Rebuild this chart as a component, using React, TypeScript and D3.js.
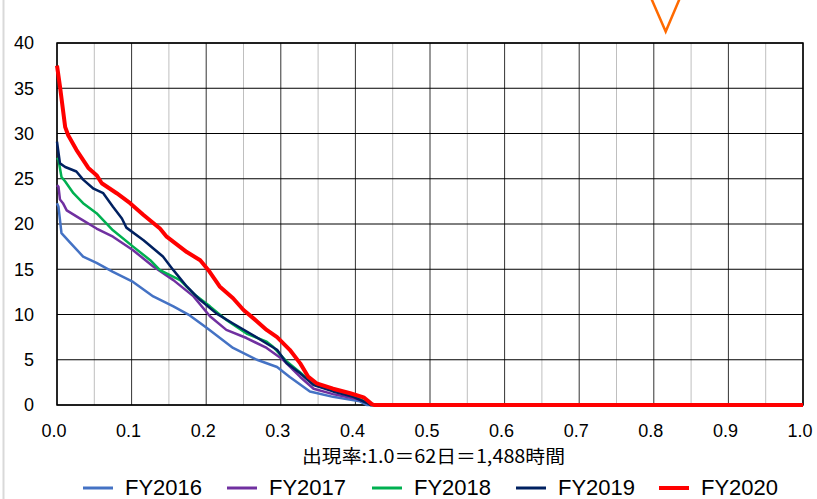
import React from "react";
import * as d3 from "d3";

type Pt = [number, number];

const seriesNames = ["FY2016", "FY2017", "FY2018", "FY2019", "FY2020"];
const seriesColors = ["#4472C4", "#7030A0", "#00B050", "#002060", "#FF0000"];

const fy2016: Pt[] = [
  [0, 22.3], [0.002, 21.9], [0.006, 19.0], [0.017, 18.0], [0.035, 16.4], [0.053, 15.7],
  [0.075, 14.7], [0.102, 13.6], [0.129, 12.0], [0.156, 10.9], [0.178, 9.9], [0.201, 8.5],
  [0.236, 6.3], [0.268, 5.0], [0.295, 4.2], [0.312, 3.1], [0.339, 1.5], [0.37, 0.9],
  [0.406, 0.4], [0.415, 0], [1.0, 0],
];
const fy2017: Pt[] = [
  [0, 24.3], [0.002, 24.1], [0.004, 22.7], [0.008, 22.3], [0.013, 21.5], [0.031, 20.6],
  [0.053, 19.5], [0.075, 18.6], [0.102, 17.1], [0.129, 15.3], [0.156, 13.8], [0.183, 12.0],
  [0.205, 9.8], [0.227, 8.3], [0.254, 7.4], [0.281, 6.3], [0.303, 5.0], [0.326, 3.1],
  [0.344, 1.8], [0.37, 1.2], [0.4, 0.7], [0.418, 0.2], [0.42, 0], [1.0, 0],
];
const fy2018: Pt[] = [
  [0, 27.3], [0.002, 27.1], [0.006, 25.2], [0.011, 24.7], [0.022, 23.4], [0.035, 22.3],
  [0.053, 21.2], [0.075, 19.3], [0.102, 17.5], [0.125, 16.0], [0.138, 14.9], [0.165, 13.8],
  [0.183, 12.3], [0.205, 10.9], [0.227, 9.4], [0.254, 7.9], [0.281, 7.0], [0.29, 6.4],
  [0.308, 4.8], [0.326, 3.6], [0.344, 2.3], [0.37, 1.6], [0.397, 1.0], [0.415, 0.3],
  [0.421, 0], [1.0, 0],
];
const fy2019: Pt[] = [
  [0, 29.1], [0.004, 26.7], [0.011, 26.3], [0.026, 25.8], [0.035, 24.9], [0.049, 23.9],
  [0.062, 23.4], [0.075, 21.9], [0.087, 20.6], [0.093, 19.6], [0.116, 18.2], [0.142, 16.4],
  [0.156, 14.9], [0.174, 13.1], [0.192, 11.6], [0.214, 10.1], [0.236, 9.0], [0.259, 7.9],
  [0.281, 6.8], [0.295, 6.1], [0.308, 4.6], [0.326, 3.5], [0.344, 2.2], [0.37, 1.5],
  [0.397, 0.9], [0.415, 0.25], [0.42, 0], [1.0, 0],
];
const fy2020: Pt[] = [
  [0, 37.5], [0.004, 35.2], [0.011, 30.7], [0.015, 29.8], [0.026, 28.2], [0.042, 26.2],
  [0.053, 25.4], [0.06, 24.5], [0.08, 23.4], [0.098, 22.3], [0.116, 21.0], [0.138, 19.5],
  [0.147, 18.6], [0.174, 16.9], [0.192, 16.0], [0.203, 14.9], [0.218, 13.1], [0.236, 11.8],
  [0.25, 10.5], [0.263, 9.6], [0.281, 8.3], [0.295, 7.5], [0.312, 6.1], [0.326, 4.6],
  [0.337, 3.1], [0.348, 2.4], [0.37, 1.8], [0.393, 1.3], [0.411, 0.85], [0.422, 0.1],
  [0.425, 0], [1.0, 0],
];
const seriesData = [fy2016, fy2017, fy2018, fy2019, fy2020];

const xTicks = [0, 0.1, 0.2, 0.3, 0.4, 0.5, 0.6, 0.7, 0.8, 0.9, 1.0];
const xMinorTicks = [0.05, 0.15, 0.25, 0.35, 0.45, 0.55, 0.65, 0.75, 0.85, 0.95];
const yTicks = [0, 5, 10, 15, 20, 25, 30, 35, 40];
const xTitle = "出現率:1.0＝62日＝1,488時間";
const legendX = [83, 227, 372, 516, 659];

const W = 817;
const H = 499;
const left = 57, right = 803, top = 43, bottom = 405;

export default function App() {
  const x = d3.scaleLinear().domain([0, 1]).range([left, right]);
  const y = d3.scaleLinear().domain([0, 40]).range([bottom, top]);
  const line = d3.line<Pt>().x((d) => x(d[0])).y((d) => y(d[1]));
  const latin = "'Liberation Sans', Arial, sans-serif";
  const cjk = "'Noto Sans CJK JP', 'Noto Sans', sans-serif";

  return (
    <svg width={W} height={H} style={{ position: "absolute", left: 0, top: 0, background: "#fff" }}>
      <rect x={0} y={0} width={W} height={H} fill="#fff" />
      <line x1={3.5} x2={3.5} y1={0} y2={H} stroke="#d9d9d9" strokeWidth={2} />
      {/* orange marker */}
      <polyline points="651.5,-1 665.7,31.5 679.5,-1" fill="none" stroke="#FF6A00" strokeWidth={2.5} />
      {/* minor vertical grid */}
      {xMinorTicks.map((t) => (
        <line key={"mv" + t} x1={x(t)} x2={x(t)} y1={top} y2={bottom} stroke="#BFBFBF" strokeWidth={1} />
      ))}
      {xTicks.map((t) => (
        <line key={"v" + t} x1={x(t)} x2={x(t)} y1={top} y2={bottom} stroke="#333" strokeWidth={1} />
      ))}
      {yTicks.map((t) => (
        <line key={"h" + t} x1={left} x2={right} y1={y(t)} y2={y(t)} stroke="#000" strokeWidth={1} />
      ))}
      <rect x={left} y={top} width={right - left} height={bottom - top} fill="none" stroke="#000" strokeWidth={1.5} />
      {seriesData.map((s, i) => (
        <path key={seriesNames[i]} d={line(s) || ""} fill="none" stroke={seriesColors[i]}
          strokeWidth={i === 4 ? 4 : 2.5} strokeLinejoin="round" />
      ))}
      {yTicks.map((t) => (
        <text key={"yl" + t} x={34} y={y(t)} dy="0.35em" textAnchor="end" fontSize={18} fontFamily={latin} fill="#000">
          {t}
        </text>
      ))}
      {xTicks.map((t) => (
        <text key={"xl" + t} x={x(t) - 3} y={437} textAnchor="middle" fontSize={18} fontFamily={latin} fill="#000">
          {t.toFixed(1)}
        </text>
      ))}
      <text x={302} y={463} fontSize={18} fontFamily={cjk} fill="#000" textLength={263} lengthAdjust="spacingAndGlyphs">
        {xTitle}
      </text>
      {seriesNames.map((n, i) => (
        <g key={"lg" + n}>
          <line x1={legendX[i]} x2={legendX[i] + 30} y1={488} y2={488} stroke={seriesColors[i]} strokeWidth={i === 4 ? 4 : 3} />
          <text x={legendX[i] + 42} y={495} fontSize={22} fontFamily={latin} fill="#000">
            {n}
          </text>
        </g>
      ))}
    </svg>
  );
}
